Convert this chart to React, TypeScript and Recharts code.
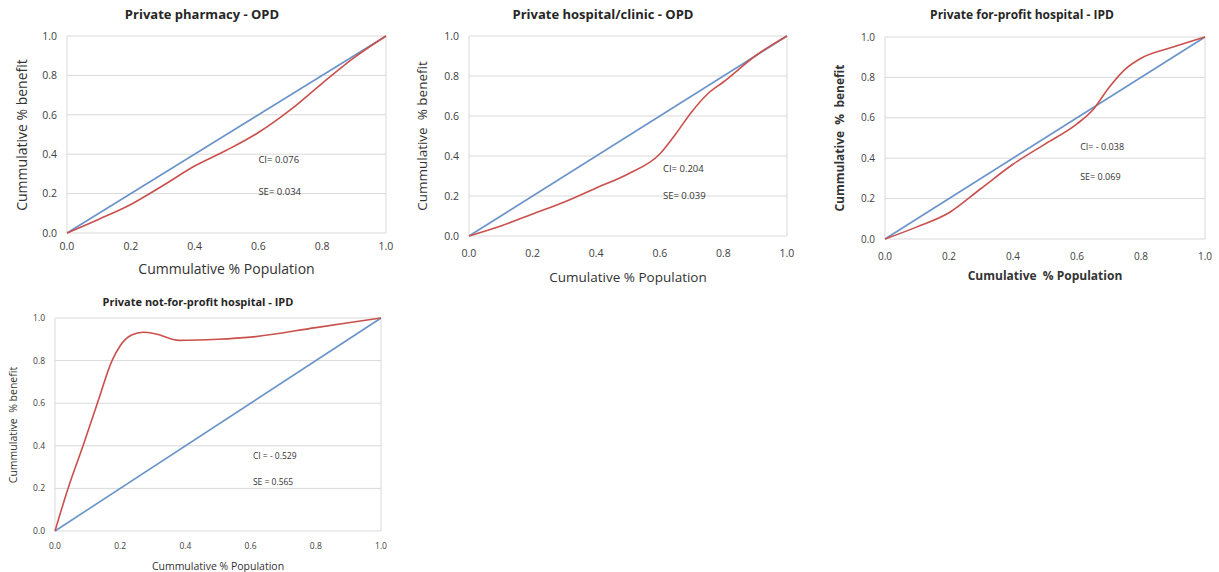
import React from "react";
import { LineChart, Line, XAxis, YAxis, CartesianGrid, ReferenceLine, ReferenceDot } from "recharts";

// concentration curves
const ticks = [0, 0.2, 0.4, 0.6, 0.8, 1.0];
const equalityX = [0, 1];
const equalityY = [0, 1];

const pharmacyX = [0, 0.1, 0.2, 0.3, 0.4, 0.5, 0.6, 0.7, 0.8, 0.9, 1.0];
const pharmacyY = [0, 0.07, 0.145, 0.24, 0.34, 0.42, 0.51, 0.625, 0.76, 0.89, 1.0];

const hospitalOpdX = [0, 0.1, 0.2, 0.3, 0.4, 0.5, 0.6, 0.65, 0.7, 0.75, 0.8, 0.9, 1.0];
const hospitalOpdY = [0, 0.05, 0.11, 0.17, 0.24, 0.31, 0.41, 0.51, 0.62, 0.71, 0.77, 0.9, 1.0];

const forProfitX = [0, 0.1, 0.2, 0.3, 0.4, 0.5, 0.6, 0.65, 0.7, 0.75, 0.8, 0.9, 1.0];
const forProfitY = [0, 0.06, 0.13, 0.25, 0.37, 0.47, 0.57, 0.64, 0.75, 0.84, 0.895, 0.95, 1.0];

const notForProfitX = [0, 0.04, 0.086, 0.13, 0.175, 0.2, 0.235, 0.27, 0.31, 0.38, 0.5, 0.6, 0.8, 1.0];
const notForProfitY = [0, 0.2, 0.4, 0.6, 0.8, 0.87, 0.92, 0.933, 0.925, 0.895, 0.9, 0.91, 0.955, 1.0];

const zip = (xs: number[], ys: number[]) => xs.map((x, i) => ({ x, y: ys[i] }));

const FONT = "'Open Sans', Lato, sans-serif";
const BLUE = "#6a93c9";
const RED = "#c9504d";
const GRID = "#d9d9d9";

type PanelProps = {
  title: string;
  xLabel: string;
  yLabel: string;
  curve: { x: number; y: number }[];
  ci: string;
  se: string;
  noteX: number;
  ciY: number;
  seY: number;
  box: [number, number, number, number]; // plot left, top, right, bottom
  titleX: number;
  titleY: number;
  xLabelY: number;
  yLabelX: number;
  titleSize: number;
  labelSize: number;
  tickSize: number;
  noteSize: number;
  labelBold?: boolean;
  xTickGap: number;
};

function Panel(p: PanelProps) {
  const [x0, y0, x1, y1] = p.box;
  const padL = 60, padT = 10, padR = 10, padB = 40;
  const w = x1 - x0 + padL + padR;
  const h = y1 - y0 + padT + padB;
  const tickStyle = { fontSize: p.tickSize, fill: "#404040", fontFamily: FONT };
  const noteLabel = (v: string) => ({
    value: v,
    position: "right" as const,
    offset: 0,
    style: { fontSize: p.noteSize, fill: "#333", fontFamily: FONT },
  });
  return (
    <>
      <div style={{ position: "absolute", left: p.titleX - 200, width: 400, top: p.titleY - 10, height: 20, lineHeight: "20px", textAlign: "center", fontWeight: 700, fontSize: p.titleSize, color: "#262626", fontFamily: FONT }}>
        {p.title}
      </div>
      <div style={{ position: "absolute", left: (x0 + x1) / 2 - 200, width: 400, top: p.xLabelY - 10, height: 20, lineHeight: "20px", textAlign: "center", fontWeight: p.labelBold ? 700 : 400, fontSize: p.labelSize, color: "#333", fontFamily: FONT, whiteSpace: "pre" }}>
        {p.xLabel}
      </div>
      <div style={{ position: "absolute", left: p.yLabelX - 150, width: 300, top: (y0 + y1) / 2 - 10, height: 20, lineHeight: "20px", textAlign: "center", fontWeight: p.labelBold ? 700 : 400, fontSize: p.labelSize, color: "#333", fontFamily: FONT, transform: "rotate(-90deg)", whiteSpace: "pre" }}>
        {p.yLabel}
      </div>
      <div style={{ position: "absolute", left: x0 - padL, top: y0 - padT }}>
        <LineChart width={w} height={h} margin={{ top: padT, right: padR, bottom: 0, left: 0 }}>
          <CartesianGrid vertical={false} stroke={GRID} horizontalValues={ticks} />
          <XAxis type="number" dataKey="x" domain={[0, 1]} ticks={ticks} tickFormatter={(v) => v.toFixed(1)} axisLine={false} tickLine={false} tick={tickStyle} tickMargin={p.xTickGap} height={padB} interval={0} />
          <YAxis type="number" dataKey="y" domain={[0, 1]} ticks={ticks} tickFormatter={(v) => v.toFixed(1)} axisLine={false} tickLine={false} tick={tickStyle} tickMargin={4} width={padL} interval={0} />
          <ReferenceLine x={0} stroke={GRID} />
          <ReferenceLine x={1} stroke={GRID} />
          <Line data={zip(equalityX, equalityY)} dataKey="y" type="linear" stroke={BLUE} strokeWidth={1.6} dot={false} isAnimationActive={false} />
          <Line data={p.curve} dataKey="y" type="monotone" stroke={RED} strokeWidth={1.6} dot={false} isAnimationActive={false} />
          <ReferenceDot x={p.noteX} y={p.ciY} r={0} fill="none" stroke="none" label={noteLabel(p.ci)} />
          <ReferenceDot x={p.noteX} y={p.seY} r={0} fill="none" stroke="none" label={noteLabel(p.se)} />
        </LineChart>
      </div>
    </>
  );
}

export default function App() {
  return (
    <div style={{ position: "absolute", left: 0, top: 0, width: 1219, height: 572, background: "#fff", overflow: "hidden" }}>
      <Panel title="Private pharmacy - OPD" xLabel="Cummulative % Population" yLabel="Cummulative % benefit"
        curve={zip(pharmacyX, pharmacyY)} ci="CI= 0.076" se="SE= 0.034" noteX={0.6} ciY={0.37} seY={0.21}
        box={[67, 36, 386, 233]} titleX={202} titleY={14} xLabelY={269} yLabelX={22}
        titleSize={13} labelSize={14} tickSize={10.5} noteSize={9.5} xTickGap={4} />
      <Panel title="Private hospital/clinic - OPD" xLabel="Cumulative % Population" yLabel="Cummulative  % benefit"
        curve={zip(hospitalOpdX, hospitalOpdY)} ci="CI= 0.204" se="SE= 0.039" noteX={0.61} ciY={0.335} seY={0.2}
        box={[469, 36, 787, 236]} titleX={603} titleY={14} xLabelY={277} yLabelX={422}
        titleSize={13} labelSize={13.5} tickSize={10.5} noteSize={9.5} xTickGap={8} />
      <Panel title="Private for-profit hospital - IPD" xLabel="Cumulative  % Population" yLabel="Cummulative  %  benefit"
        curve={zip(forProfitX, forProfitY)} ci="CI= - 0.038" se="SE=  0.069" noteX={0.61} ciY={0.455} seY={0.31}
        box={[885, 37, 1205, 239]} titleX={1022} titleY={15} xLabelY={276} yLabelX={840}
        titleSize={12} labelSize={12} tickSize={10} noteSize={9} labelBold xTickGap={8} />
      <Panel title="Private not-for-profit hospital - IPD" xLabel="Cummulative % Population" yLabel="Cummulative  % benefit"
        curve={zip(notForProfitX, notForProfitY)} ci="CI = - 0.529" se="SE = 0.565" noteX={0.607} ciY={0.35} seY={0.23}
        box={[55, 318, 381, 531]} titleX={198} titleY={302} xLabelY={566} yLabelX={13}
        titleSize={11} labelSize={10.5} tickSize={8.5} noteSize={8.5} xTickGap={6} />
    </div>
  );
}
